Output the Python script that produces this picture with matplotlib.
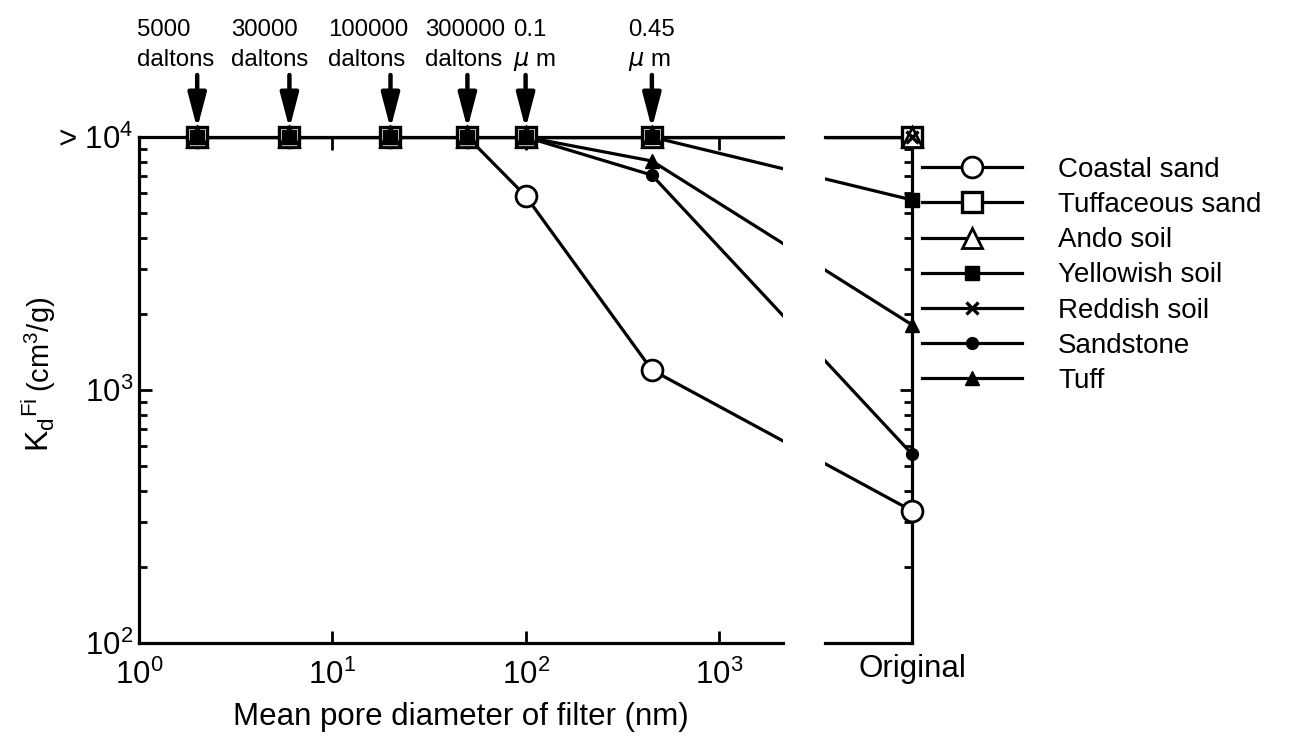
import matplotlib
matplotlib.use("Agg")
import matplotlib.pyplot as plt
from matplotlib.lines import Line2D
from matplotlib.ticker import FixedLocator, LogLocator, NullLocator, NullFormatter

plt.rcParams["font.family"] = ["Liberation Sans", "DejaVu Sans"]
plt.rcParams["mathtext.default"] = "regular"

# filter pore sizes (nm) and the unfiltered "Original" sample
pore_nm = [2, 6, 20, 50, 100, 450]
original_nm = 10000
filter_labels = ["5000\ndaltons", "30000\ndaltons", "100000\ndaltons",
                 "300000\ndaltons", "0.1\n$\\mathit{\\mu}$ m", "0.45\n$\\mathit{\\mu}$ m"]

soils = ["Coastal sand", "Tuffaceous sand", "Ando soil", "Yellowish soil",
         "Reddish soil", "Sandstone", "Tuff"]

# Kd values (cm3/g): six filters then Original
coastal_sand = [1e4, 1e4, 1e4, 1e4, 5850, 1200, 333]
tuffaceous_sand = [1e4, 1e4, 1e4, 1e4, 1e4, 1e4, 1e4]
ando_soil = [1e4, 1e4, 1e4, 1e4, 1e4, 1e4, 1e4]
yellowish_soil = [1e4, 1e4, 1e4, 1e4, 1e4, 1e4, 5640]
reddish_soil = [1e4, 1e4, 1e4, 1e4, 1e4, 1e4, 1e4]
sandstone = [1e4, 1e4, 1e4, 1e4, 1e4, 7070, 558]
tuff = [1e4, 1e4, 1e4, 1e4, 1e4, 8040, 1810]

series = [coastal_sand, tuffaceous_sand, ando_soil, yellowish_soil,
          reddish_soil, sandstone, tuff]

# marker, size, filled, edge width
styles = [("o", 15, False, 2.0), ("s", 14, False, 2.4), ("^", 14, False, 2.0),
          ("s", 9.5, True, 1.0), ("x", 8, True, 2.4), ("o", 8.5, True, 1.0),
          ("^", 9.5, True, 1.0)]

# horizontal pixel offsets for the filter labels above the arrows
label_dx = [-22, -20, -22, -2, 9, 0]

W, H = 1294, 748
fig = plt.figure(figsize=(W / 100, H / 100), dpi=100)
ax1 = fig.add_axes([139 / W, 1 - 643 / H, 644 / W, 506 / H])
ax2 = fig.add_axes([825 / W, 1 - 643 / H, 87 / W, 506 / H])

xs = pore_nm + [original_nm]
lw = 2.3
for vals, (mk, ms, filled, mew) in zip(series, styles):
    face = "black" if filled else "white"
    for ax in (ax1, ax2):
        ax.plot(xs, vals, color="black", linewidth=lw, solid_capstyle="butt")
    ax1.plot(pore_nm, vals[:6], linestyle="none", marker=mk, markersize=ms,
             markerfacecolor=face, markeredgecolor="black", markeredgewidth=mew,
             clip_on=False, zorder=3)
    ax2.plot([original_nm], [vals[6]], linestyle="none", marker=mk, markersize=ms,
             markerfacecolor=face, markeredgecolor="black", markeredgewidth=mew,
             clip_on=False, zorder=3)

for ax in (ax1, ax2):
    ax.set_xscale("log")
    ax.set_yscale("log")
    ax.set_ylim(1e2, 1e4)
    for sp in ax.spines.values():
        sp.set_linewidth(2.3)

ax1.set_xlim(1, 2146)
ax2.set_xlim(3540, 10000)

# left panel axes
ax1.spines["right"].set_visible(False)
ax1.xaxis.set_major_locator(FixedLocator([1, 10, 100, 1000]))
ax1.xaxis.set_minor_locator(NullLocator())
ax1.set_xticklabels(["$10^{0}$", "$10^{1}$", "$10^{2}$", "$10^{3}$"])
ax1.yaxis.set_major_locator(FixedLocator([1e2, 1e3, 1e4]))
ax1.yaxis.set_minor_locator(LogLocator(base=10, subs=range(2, 10)))
ax1.yaxis.set_minor_formatter(NullFormatter())
ax1.set_yticklabels(["$10^{2}$", "$10^{3}$", "> $10^{4}$"])
ax1.tick_params(axis="x", which="major", direction="in", length=9, width=2,
                top=True, labelsize=22.5, pad=12)
ax1.tick_params(axis="y", which="major", direction="in", length=9, width=2,
                labelsize=22.5, pad=4)
ax1.tick_params(axis="y", which="minor", direction="in", length=6, width=2)
ax1.set_xlabel("Mean pore diameter of filter (nm)", fontsize=22.5, labelpad=8)

# right panel ("Original")
ax2.spines["left"].set_visible(False)
ax2.xaxis.set_major_locator(FixedLocator([original_nm]))
ax2.xaxis.set_minor_locator(NullLocator())
ax2.set_xticklabels(["Original"])
ax2.tick_params(axis="x", which="major", length=0, labelsize=22.5, pad=8)
ax2.yaxis.tick_right()
ax2.yaxis.set_major_locator(FixedLocator([1e2, 1e3, 1e4]))
ax2.yaxis.set_minor_locator(LogLocator(base=10, subs=range(2, 10)))
ax2.yaxis.set_minor_formatter(NullFormatter())
ax2.tick_params(axis="y", which="both", direction="in", labelright=False, width=2)
ax2.tick_params(axis="y", which="major", length=9)
ax2.tick_params(axis="y", which="minor", length=6)

# filter labels with arrows
for x, lab, dx in zip(pore_nm, filter_labels, label_dx):
    ax1.annotate("", xy=(x, 1e4), xytext=(0, 62), textcoords="offset pixels",
                 arrowprops=dict(arrowstyle="-|>,head_length=2.1,head_width=0.55",
                                 color="black", lw=3.2, shrinkA=0, shrinkB=6),
                 annotation_clip=False)
    ax1.annotate(lab, xy=(x, 1e4), xytext=(dx, 71), textcoords="offset pixels",
                 ha="center", va="baseline", multialignment="left",
                 fontsize=17.3, linespacing=1.5, annotation_clip=False)

# y-axis label in two sizes
fig.text(50 / W, 1 - 452 / H, "K$_{d}$$^{Fi}$", fontsize=23, rotation=90,
         rotation_mode="anchor", ha="left", va="baseline")
fig.text(50 / W, 1 - 392 / H, "(cm$^{3}$/g)", fontsize=21, rotation=90,
         rotation_mode="anchor", ha="left", va="baseline")

handles = []
for mk, ms, filled, mew in styles:
    handles.append(Line2D([], [], color="black", linewidth=lw, marker=mk,
                          markersize=ms, markerfacecolor="black" if filled else "white",
                          markeredgecolor="black", markeredgewidth=mew))
fig.legend(handles, soils, loc="upper left", bbox_to_anchor=(922 / W, 1 - 157 / H),
           frameon=False, fontsize=20, handlelength=3.6, handletextpad=1.3,
           labelspacing=0.33, borderpad=0, borderaxespad=0)

fig.savefig("out.png", dpi=100)
